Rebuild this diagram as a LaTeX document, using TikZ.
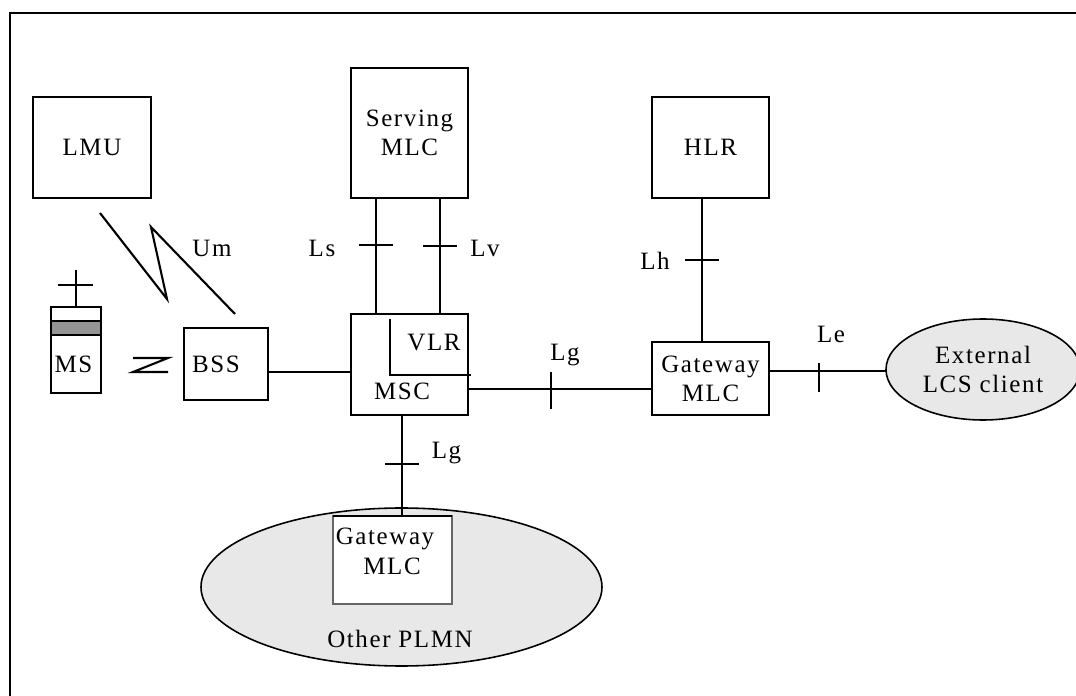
\documentclass[tikz,border=0pt]{standalone}
\usepackage{fontspec}
\setmainfont[LetterSpace=6.5]{Liberation Serif}
\usetikzlibrary{shapes.geometric}

\begin{document}
\begin{tikzpicture}
		\tikzset{every node/.style={font=\fontsize{7.1}{8.25}\selectfont, inner sep=0pt, outer sep=0pt},
			box style/.style={draw, line width=0.65pt, fill=white, align=center},
			cloud style/.style={ellipse, draw, line width=0.45pt, fill=black!9, align=center},
			label style/.style={anchor=base},
			link/.style={line width=0.6pt},
			thin link/.style={line width=0.35pt}}
		\useasboundingbox (0,0) rectangle (10.76,-6.96);
		
		% Draw the frame
		\draw[line width=0.75pt] (0.10,-6.96) -- (0.10,-0.13) -- (10.76,-0.13);
		
		% Draw the boxes
		\node[box style, minimum width=1.18cm, minimum height=1.01cm] at (0.92,-1.475) (lmu) {LMU};
		\node[box style, minimum width=1.17cm, minimum height=1.30cm] at (4.095,-1.33) (smlc) {Serving\\MLC};
		\node[box style, minimum width=1.17cm, minimum height=1.01cm] at (7.105,-1.475) (hlr) {HLR};
		\node[box style, minimum width=0.84cm, minimum height=0.72cm] at (2.26,-3.64) (bss) {BSS\hspace{0.2cm}};
		\node[box style, minimum width=1.17cm, minimum height=1.01cm] at (4.095,-3.645) (msc) {};
		\node[box style, minimum width=1.17cm, minimum height=0.73cm] at (7.105,-3.785) (gmlc) {Gateway\hspace{0.06cm}\\MLC\hspace{0.06cm}};
		
		% The MS is three boxes on top of each other
		\node[box style, minimum width=0.50cm, minimum height=0.14cm] at (0.76,-3.14) (mstop) {};
		\node[box style, line width=0.85pt, fill=black!42, minimum width=0.50cm, minimum height=0.14cm] at (0.76,-3.28) (msband) {};
		\node[box style, minimum width=0.50cm, minimum height=0.58cm] at (0.76,-3.64) (ms) {MS\hspace{0.05cm}};
		
		% Draw the clouds
		\node[cloud style, minimum width=1.94cm, minimum height=1.01cm] at (9.83,-3.695) (ext) {External\\LCS client};
		\node[cloud style, minimum width=4.01cm, minimum height=1.58cm] at (4.015,-5.87) (plmn) {};
		\node[box style, draw=black!60, line width=0.35pt, minimum width=1.19cm, minimum height=0.88cm] at (3.925,-5.60) (omlc) {};
		
		% Texts that are not centred in their shapes
		\node[label style] at (4.02,-4.00) (msclabel) {MSC};
		\node[label style] at (4.34,-3.51) (vlrlabel) {VLR};
		\node[label style] at (3.85,-5.45) (omlcname) {Gateway};
		\node[label style] at (3.92,-5.74) (omlcmlc) {MLC};
		\node[label style] at (4.00,-6.47) (plmnlabel) {Other PLMN};
		
		% Interface names
		\node[label style] at (2.12,-2.57) (um) {Um};
		\node[label style] at (3.22,-2.57) (ls) {Ls};
		\node[label style] at (4.85,-2.57) (lv) {Lv};
		\node[label style] at (6.55,-2.70) (lh) {Lh};
		\node[label style] at (5.65,-3.60) (lgr) {Lg};
		\node[label style] at (4.465,-4.59) (lgb) {Lg};
		\node[label style] at (8.31,-3.43) (le) {Le};
		
		% Points for the lines
		\coordinate (lsx) at (3.76,-2.45);
		\coordinate (lvx) at (4.40,-2.46);
		\coordinate (lhx) at (7.02,-2.60);
		\coordinate (lgbx) at (4.02,-4.64);
		\coordinate (bssy) at (2.68,-3.72);
		\coordinate (lgry) at (5.51,-3.89);
		\coordinate (ley) at (8.19,-3.71);
		\coordinate (anttop) at (0.76,-2.70);
		\coordinate (antleft) at (0.58,-2.85);
		\coordinate (antright) at (0.93,-2.85);
		
		% Connect the boxes
		\draw[link] (lsx |- smlc.south) -- (lsx |- msc.north);
		\draw[link] (lvx |- smlc.south) -- (lvx |- msc.north);
		\draw[link] (lhx |- hlr.south) -- (lhx |- gmlc.north);
		\draw[link] (lgbx |- msc.south) -- (lgbx |- omlc.north);
		\draw[link] (bssy) -- (bssy -| msc.west);
		\draw[link] (lgry -| msc.east) -- (lgry -| gmlc.west);
		\draw[thin link] (ley -| gmlc.east) -- (ley -| ext.west);
		\draw[thin link] (omlc.north west) -- (omlc.north east);
		
		% Ticks on the lines
		\draw[thin link] ([xshift=-0.17cm]lsx) -- ([xshift=0.17cm]lsx);
		\draw[thin link] ([xshift=-0.17cm]lvx) -- ([xshift=0.17cm]lvx);
		\draw[thin link] ([xshift=-0.17cm]lhx) -- ([xshift=0.17cm]lhx);
		\draw[thin link] ([xshift=-0.17cm]lgbx) -- ([xshift=0.17cm]lgbx);
		\draw[thin link] ([yshift=0.17cm]lgry) -- ([yshift=-0.20cm]lgry);
		\draw[thin link] (8.19,-3.63) -- (8.19,-3.92);
		
		% The VLR corner inside the MSC
		\draw[thin link] (3.90,-3.19) -- (3.90,-3.75) -- (4.71,-3.75);
		
		% Antenna of the MS
		\draw[link] (anttop) -- (mstop.north);
		\draw[link] (antleft) -- (antright);
		
		% Radio links
		\draw[link] (1.00,-2.13) -- (1.67,-2.99) -- (1.51,-2.27) -- (2.35,-3.14);
		\draw[link] (1.33,-3.58) -- (1.68,-3.58) -- (1.33,-3.72) -- (1.68,-3.72);
		
\end{tikzpicture}
\end{document}
